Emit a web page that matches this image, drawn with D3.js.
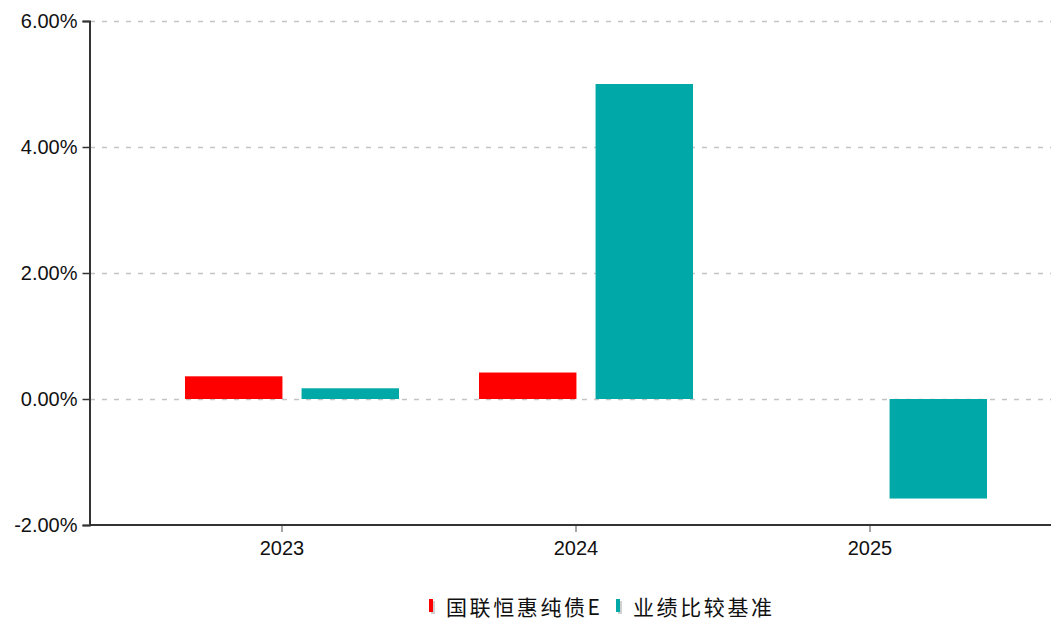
<!DOCTYPE html>
<html>
<head>
<meta charset="utf-8">
<script src="https://cdn.jsdelivr.net/npm/d3@7"></script>
<style>
  body { margin: 0; background: #fff; }
  svg { display: block; }
  .tick text { font-family: "Liberation Sans", Arial, sans-serif; font-size: 20px; fill: #111; }
</style>
</head>
<body>
<div id="chart"></div>
<script>
// years on the x axis
var years = ["2023", "2024", "2025"];
// annual returns in %, null = no value
var fund = [0.36, 0.42, null];
var bench = [0.17, 5.00, -1.58];
var seriesNames = ["国联恒惠纯债E", "业绩比较基准"];
var yTicks = [-2, 0, 2, 4, 6];

var colors = ["#ff0000", "#00a8a8"];

var width = 1051, height = 619;

var svg = d3.select("#chart")
  .append("svg")
    .attr("width", width)
    .attr("height", height);

// scales
var x = d3.scaleBand()
  .domain(years)
  .range([135, 1017]);

var inner = d3.scaleBand()
  .domain([0, 1])
  .range([50, 264])
  .paddingInner(0.164);

var y = d3.scaleLinear()
  .domain([-2, 6])
  .range([525, 21]);

// grid lines (dashed)
svg.append("g")
  .selectAll("line")
  .data(yTicks.filter(function (d) { return d > -2; }))
  .enter()
  .append("line")
    .attr("x1", 90)
    .attr("x2", width)
    .attr("y1", function (d) { return y(d) + 0.5; })
    .attr("y2", function (d) { return y(d) + 0.5; })
    .style("stroke", "#c4c4c4")
    .style("stroke-width", 1.5)
    .style("stroke-dasharray", "5,7");

// bars
var rows = [];
years.forEach(function (yr, i) {
  [fund[i], bench[i]].forEach(function (v, s) {
    if (v !== null) rows.push({year: yr, s: s, v: v});
  });
});

svg.append("g")
  .selectAll("rect")
  .data(rows)
  .enter()
  .append("rect")
    .attr("x", function (d) { return x(d.year) + inner(d.s); })
    .attr("width", inner.bandwidth())
    .attr("y", function (d) { return y(Math.max(0, d.v)); })
    .attr("height", function (d) { return Math.abs(y(d.v) - y(0)); })
    .style("fill", function (d) { return colors[d.s]; });

// y axis
var yAxis = svg.append("g")
  .attr("transform", "translate(89.5,0)")
  .call(d3.axisLeft(y)
    .tickValues(yTicks)
    .tickSize(7)
    .tickPadding(5)
    .tickFormat(function (d) { return d.toFixed(2) + "%"; }));
yAxis.select(".domain").style("stroke", "#333").style("stroke-width", 2);
yAxis.selectAll(".tick line").style("stroke", "#333").style("stroke-width", 1.5);

// x axis
var xAxis = svg.append("g")
  .attr("transform", "translate(0,525)")
  .call(d3.axisBottom(x).tickSize(7).tickPadding(9));
xAxis.select(".domain").remove();
xAxis.append("line")
  .attr("x1", 89).attr("x2", width)
  .style("stroke", "#333").style("stroke-width", 2);
xAxis.selectAll(".tick line").style("stroke", "#888").style("stroke-width", 1.5);

// legend
var legendX = [429, 616];
var legend = svg.append("g")
  .selectAll("g")
  .data(seriesNames)
  .enter()
  .append("g")
    .attr("transform", function (d, i) { return "translate(" + legendX[i] + ",599)"; });

legend.append("rect")
  .attr("x", 2).attr("y", 2)
  .attr("width", 4).attr("height", 13)
  .style("fill", "#d0d0d0");
legend.append("rect")
  .attr("width", 4).attr("height", 13)
  .style("fill", function (d, i) { return colors[i]; });
legend.append("text")
  .attr("x", 17)
  .attr("y", 15.5)
  .style("font-family", "'Noto Sans CJK SC', sans-serif")
  .style("font-size", "21px")
  .style("letter-spacing", "2.6px")
  .style("fill", "#111")
  .text(function (d) { return d; });
</script>
</body>
</html>
